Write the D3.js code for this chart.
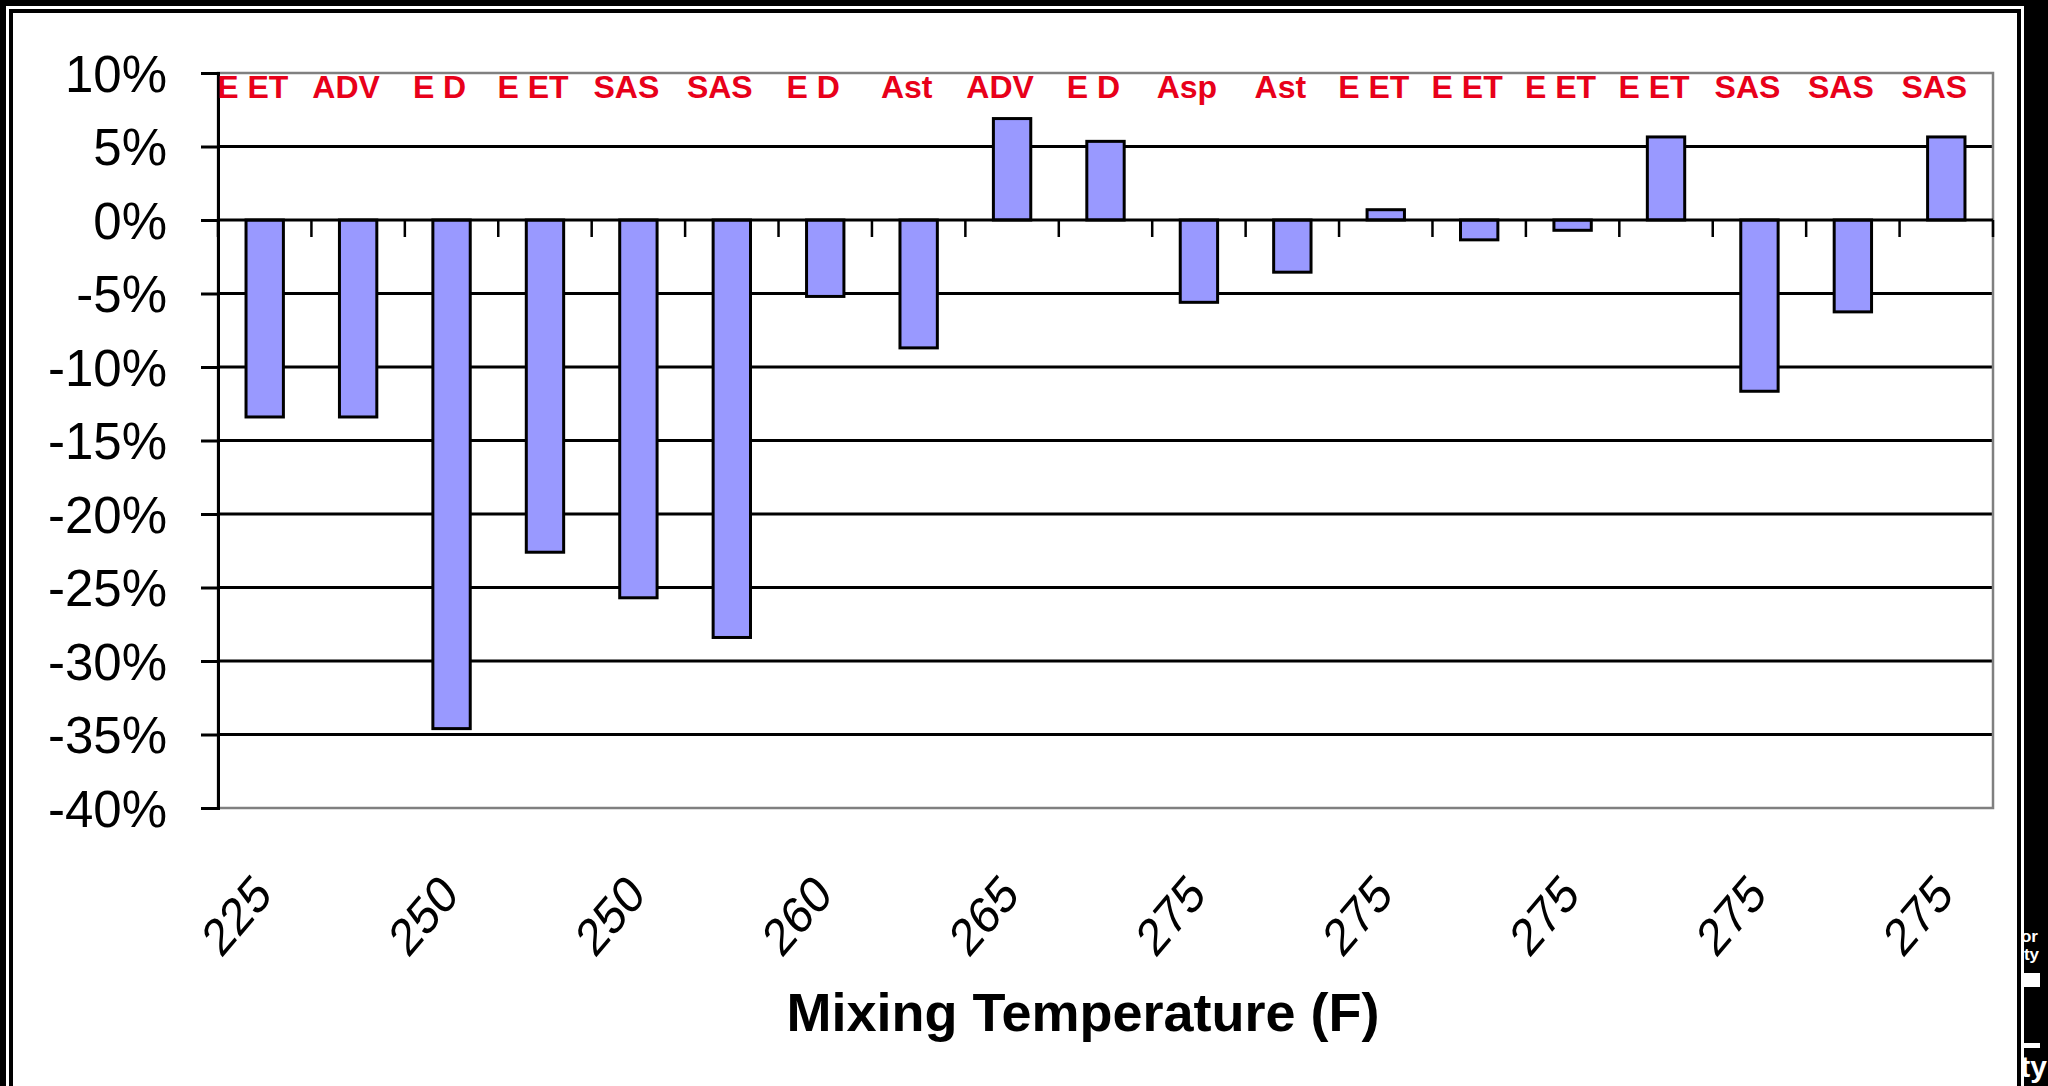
<!DOCTYPE html>
<html>
<head>
<meta charset="utf-8">
<script src="https://cdn.jsdelivr.net/npm/d3@7"></script>
<style>
  html, body { margin: 0; padding: 0; background: #000; }
  svg { display: block; font-family: "Liberation Sans", Arial, sans-serif; }
</style>
</head>
<body>
<svg id="chart" width="2048" height="1086"></svg>
<script>
// Mix codes printed above each bar
const mixCodes = ["E ET", "ADV", "E D", "E ET", "SAS", "SAS", "E D", "Ast", "ADV", "E D",
                  "Asp", "Ast", "E ET", "E ET", "E ET", "E ET", "SAS", "SAS", "SAS"];
// Percent change for each mix
const pctChange = [-13.4, -13.4, -34.6, -22.6, -25.7, -28.4, -5.2, -8.7, 6.9, 5.35,
                   -5.6, -3.55, 0.7, -1.35, -0.7, 5.65, -11.65, -6.25, 5.65];
// Mixing temperature labels (only every other category is labelled on the axis)
const tempLabels = ["225", "", "250", "", "250", "", "260", "", "265", "",
                    "275", "", "275", "", "275", "", "275", "", "275"];
// Value axis ticks (%)
const yTicks = [10, 5, 0, -5, -10, -15, -20, -25, -30, -35, -40];

const W = 2048, H = 1086;
const plot = { left: 218, right: 1993, top: 73, bottom: 808 };

const svg = d3.select("#chart");

// Outer frame: black band, white sheet, thin black inner rule
svg.append("rect").attr("x", 0).attr("y", 0).attr("width", W).attr("height", H).attr("fill", "#000");
svg.append("rect").attr("x", 6).attr("y", 6).attr("width", 2018).attr("height", H).attr("fill", "#fff");
svg.append("rect").attr("x", 11).attr("y", 11).attr("width", 2008).attr("height", H + 20)
  .attr("fill", "#fff").attr("stroke", "#000").attr("stroke-width", 4);

// Clipped fragments of neighbouring text at the right edge
const clip = svg.append("clipPath").attr("id", "edgeClip");
clip.append("rect").attr("x", 2024).attr("y", 0).attr("width", 24).attr("height", H);
const edge = svg.append("g").attr("clip-path", "url(#edgeClip)")
  .attr("fill", "#fff").attr("font-weight", "bold");
edge.append("text").attr("x", 2038).attr("y", 942).attr("text-anchor", "end").attr("font-size", 17).text("for");
edge.append("text").attr("x", 2039).attr("y", 960).attr("text-anchor", "end").attr("font-size", 17).text("ity");
edge.append("rect").attr("x", 2023).attr("y", 973).attr("width", 17).attr("height", 14);
edge.append("rect").attr("x", 2023).attr("y", 1043).attr("width", 17).attr("height", 5);
edge.append("text").attr("x", 2047).attr("y", 1077).attr("text-anchor", "end").attr("font-size", 30).text("ity");

// Scales
const x = d3.scaleBand()
  .domain(d3.range(pctChange.length))
  .range([plot.left, plot.right])
  .paddingInner(0.6)
  .paddingOuter(0.3);
const step = x.step();

const y = d3.scaleLinear().domain([-40, 10]).range([plot.bottom, plot.top]);

// Horizontal gridlines
svg.append("g")
  .selectAll("line")
  .data(yTicks.filter(d => d !== 10 && d !== -40 && d !== 0))
  .join("line")
  .attr("x1", plot.left).attr("x2", plot.right)
  .attr("y1", d => y(d)).attr("y2", d => y(d))
  .attr("stroke", "#000").attr("stroke-width", 3);

// Plot area border
svg.append("rect")
  .attr("x", plot.left).attr("y", plot.top)
  .attr("width", plot.right - plot.left).attr("height", plot.bottom - plot.top)
  .attr("fill", "none").attr("stroke", "#808080").attr("stroke-width", 2.5);

// Bars
svg.append("g")
  .selectAll("rect")
  .data(pctChange)
  .join("rect")
  .attr("x", (d, i) => x(i))
  .attr("width", x.bandwidth())
  .attr("y", d => y(Math.max(0, d)))
  .attr("height", d => Math.abs(y(d) - y(0)))
  .attr("fill", "#9999ff")
  .attr("stroke", "#000")
  .attr("stroke-width", 3);

// Category axis along 0%
const xAxisG = svg.append("g");
xAxisG.append("line")
  .attr("x1", plot.left).attr("x2", plot.right)
  .attr("y1", y(0)).attr("y2", y(0))
  .attr("stroke", "#000").attr("stroke-width", 3);
xAxisG.selectAll("line.tick")
  .data(d3.range(pctChange.length + 1))
  .join("line")
  .attr("class", "tick")
  .attr("x1", i => plot.left + i * step).attr("x2", i => plot.left + i * step)
  .attr("y1", y(0)).attr("y2", y(0) + 17)
  .attr("stroke", "#000").attr("stroke-width", 2.5);

// Value axis
const yAxis = d3.axisLeft(y)
  .tickValues(yTicks)
  .tickFormat(d => d + "%")
  .tickSize(17)
  .tickPadding(34);
const yAxisG = svg.append("g")
  .attr("transform", `translate(${plot.left},0)`)
  .call(yAxis);
yAxisG.select(".domain").attr("stroke", "#000").attr("stroke-width", 3);
yAxisG.selectAll(".tick line").attr("stroke", "#000").attr("stroke-width", 3);
yAxisG.selectAll(".tick text")
  .attr("fill", "#000")
  .attr("font-size", 51)
  .attr("font-family", "\"Liberation Sans\", Arial, sans-serif")
  .attr("dy", "0.36em");

// Rotated temperature labels below the plot
svg.append("g")
  .selectAll("text")
  .data(tempLabels.map((t, i) => ({ t, i })).filter(d => d.t !== ""))
  .join("text")
  .attr("transform", d => `translate(${x(d.i) + x.bandwidth() / 2 + 9},897) scale(0.95,1.12) rotate(-45)`)
  .attr("text-anchor", "end")
  .attr("font-size", 47)
  .attr("fill", "#000")
  .text(d => d.t);

// Mix codes along the top of the plot
svg.append("g")
  .selectAll("text")
  .data(mixCodes)
  .join("text")
  .attr("x", (d, i) => x(i) + x.bandwidth() / 2 - 12)
  .attr("y", 98)
  .attr("text-anchor", "middle")
  .attr("font-size", 32)
  .attr("font-weight", "bold")
  .attr("fill", "#e8001a")
  .text(d => d);

// Axis title
svg.append("text")
  .attr("x", 1083)
  .attr("y", 1031)
  .attr("text-anchor", "middle")
  .attr("font-size", 54)
  .attr("font-weight", "bold")
  .attr("fill", "#000")
  .text("Mixing Temperature (F)");
</script>
</body>
</html>
